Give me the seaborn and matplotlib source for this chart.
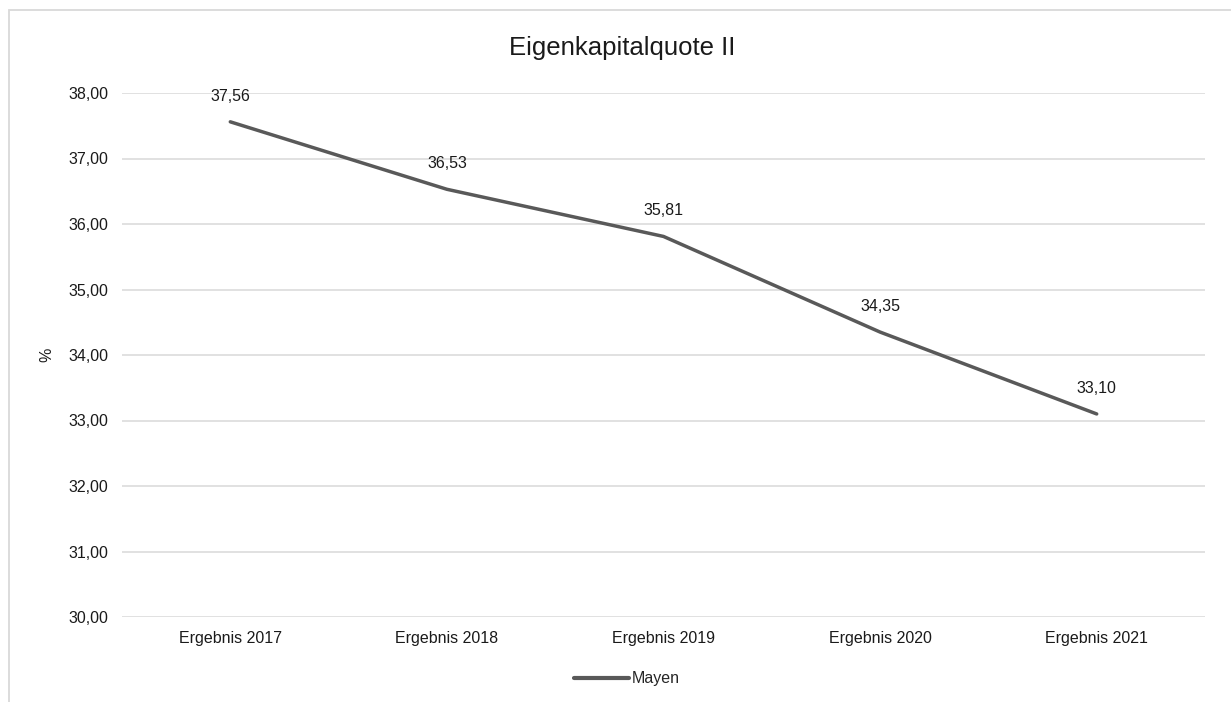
import matplotlib
matplotlib.use("Agg")
import matplotlib.pyplot as plt
import seaborn as sns
import pandas as pd
from matplotlib.patches import Rectangle
from matplotlib.lines import Line2D

categories = ["Ergebnis 2017", "Ergebnis 2018", "Ergebnis 2019", "Ergebnis 2020", "Ergebnis 2021"]
values = [37.56, 36.53, 35.81, 34.35, 33.10]
series_name = "Mayen"
title = "Eigenkapitalquote II"
y_ticks = [30, 31, 32, 33, 34, 35, 36, 37, 38]

sns.set_style("white")
plt.rcParams['font.family'] = ['Liberation Sans', 'DejaVu Sans']

W, H = 1231, 702
fig = plt.figure(figsize=(W / 100, H / 100), dpi=100)
ax = fig.add_axes([122 / W, 1 - 617 / H, (1205 - 122) / W, (617 - 93) / H])

df = pd.DataFrame({"cat": categories, "val": values, "series": series_name})
line_color = "#595959"
sns.lineplot(data=df, x="cat", y="val", ax=ax, color=line_color, linewidth=2.5,
             sort=False, legend=False)

fs = 11.5
txt = "#1a1a1a"
ax.set_xlim(-0.5, len(categories) - 0.5)
ax.set_ylim(30, 38)
ax.set_yticks(y_ticks)
ax.set_yticklabels([f"{t:.2f}".replace(".", ",") for t in y_ticks], fontsize=fs, color=txt)
ax.set_xticks(range(len(categories)))
ax.set_xticklabels(categories, fontsize=fs, color=txt)
ax.tick_params(axis="both", length=0)
ax.tick_params(axis="y", pad=10)
ax.tick_params(axis="x", pad=10)
ax.grid(axis="y", color="#d9d9d9", linewidth=1.1)
ax.set_axisbelow(True)
for s in ax.spines.values():
    s.set_visible(False)
ax.set_xlabel("")
ax.set_ylabel("%", fontsize=fs, color=txt)
ax.yaxis.set_label_coords((54 - 122) / (1205 - 122), 0.5)

for i, v in enumerate(values):
    ax.annotate(f"{v:.2f}".replace(".", ","), (i, v), xytext=(0, 18.5), textcoords="offset points",
                ha="center", va="center", fontsize=fs, color=txt)

fig.text(622 / W, 1 - 48 / H, title, ha="center", va="center", fontsize=18.5, color=txt)

handle = Line2D([], [], color=line_color, linewidth=3)
fig.legend([handle], [series_name], loc="center", bbox_to_anchor=(627 / W, 1 - 679 / H),
           frameon=False, fontsize=fs, handlelength=3.4, handletextpad=0.2)

fig.patches.append(Rectangle((8.5 / W, -0.05), 1.2, 1 - 9.5 / H + 0.05, transform=fig.transFigure,
                             fill=False, edgecolor="#d9d9d9", linewidth=1.3, zorder=0))

fig.savefig("out.png", dpi=100)
